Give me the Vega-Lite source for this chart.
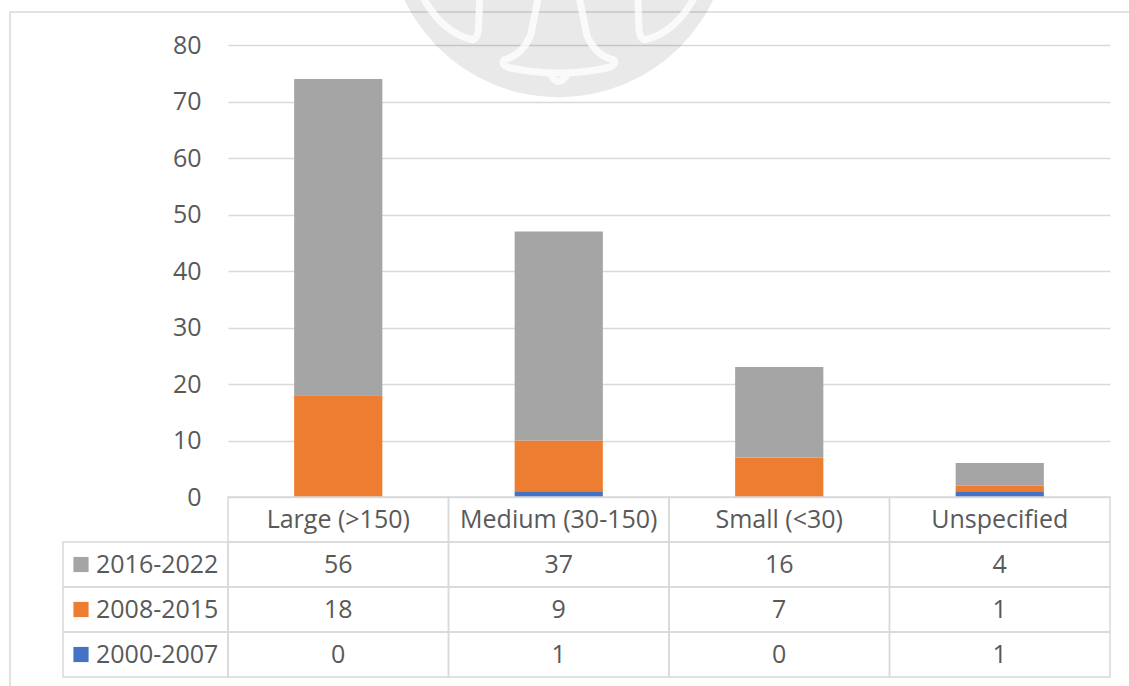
{
  "$schema": "https://vega.github.io/schema/vega-lite/v6.json",
  "width": 882,
  "height": 632,
  "autosize": {"type": "none"},
  "padding": {"left": 228, "top": 45, "right": 19, "bottom": 9},
  "background": "white",
  "config": {"view": {"stroke": null}, "font": "Open Sans"},
  "datasets": {
    "counts": [
      {"category": "Large (>150)", "period": "2000-2007", "value": 0},
      {"category": "Large (>150)", "period": "2008-2015", "value": 18},
      {"category": "Large (>150)", "period": "2016-2022", "value": 56},
      {"category": "Medium (30-150)", "period": "2000-2007", "value": 1},
      {"category": "Medium (30-150)", "period": "2008-2015", "value": 9},
      {"category": "Medium (30-150)", "period": "2016-2022", "value": 37},
      {"category": "Small (<30)", "period": "2000-2007", "value": 0},
      {"category": "Small (<30)", "period": "2008-2015", "value": 7},
      {"category": "Small (<30)", "period": "2016-2022", "value": 16},
      {"category": "Unspecified", "period": "2000-2007", "value": 1},
      {"category": "Unspecified", "period": "2008-2015", "value": 1},
      {"category": "Unspecified", "period": "2016-2022", "value": 4}
    ]
  },
  "data": {"name": "counts"},
  "layer": [
    {
      "data": {"values": [{"frame": "chart"}]},
      "mark": {"type": "rect", "fill": "transparent", "stroke": "#d9d9d9", "strokeWidth": 1.5},
      "encoding": {
        "x": {"field": "frame", "type": "nominal", "axis": null,
              "scale": {"type": "band", "domain": ["chart"], "range": [-218, 940], "paddingInner": 0, "paddingOuter": 0}},
        "y": {"field": "frame", "type": "nominal", "axis": null,
              "scale": {"type": "band", "domain": ["chart"], "range": [-33, 700], "paddingInner": 0, "paddingOuter": 0}}
      }
    },
    {
      "mark": {"type": "bar"},
      "encoding": {
        "x": {"field": "category", "type": "nominal", "axis": null,
              "scale": {"type": "band", "domain": ["Large (>150)", "Medium (30-150)", "Small (<30)", "Unspecified"], "paddingInner": 0.6, "paddingOuter": 0.3}},
        "y": {"field": "value", "type": "quantitative", "stack": "zero",
              "scale": {"domain": [0, 80], "range": [452, 0], "nice": false, "zero": true},
              "axis": {"values": [0, 10, 20, 30, 40, 50, 60, 70, 80], "grid": true, "gridColor": "#d9d9d9", "gridWidth": 1.3,
                       "domain": false, "ticks": false, "labelFontSize": 25, "labelColor": "#595959", "labelPadding": 27,
                       "labelFont": "Open Sans", "title": null}},
        "color": {"field": "period", "type": "nominal", "legend": null,
                  "scale": {"domain": ["2000-2007", "2008-2015", "2016-2022"], "range": ["#4472C4", "#ED7D31", "#A5A5A5"]}},
        "order": {"field": "period", "sort": "ascending"}
      }
    },
    {
      "data": {"values": [{}]},
      "layer": [
        {
          "mark": {"type": "point", "shape": "circle", "filled": true, "size": 117000, "color": "#000000", "opacity": 0.085, "strokeWidth": 0}
        },
        {
          "mark": {"type": "point", "filled": false, "size": 117000, "stroke": "#ffffff", "strokeWidth": 7, "opacity": 0.8, "strokeCap": "round", "strokeJoin": "round",
                   "shape": "M-0.801,0.401 Q-0.690,0.618 -0.503,0.664 Q-0.468,0.652 -0.468,0.577 L-0.462,0.401 M0.801,0.401 Q0.690,0.618 0.503,0.664 Q0.468,0.652 0.468,0.577 L0.462,0.401 M-0.117,0.401 L-0.164,0.635 Q-0.211,0.752 -0.322,0.781 Q-0.339,0.816 -0.281,0.828 Q0,0.887 0.281,0.828 Q0.339,0.816 0.322,0.781 Q0.211,0.752 0.164,0.635 L0.117,0.401 M-0.047,0.869 Q0,0.945 0.047,0.869"}
        }
      ],
      "encoding": {
        "x": {"datum": "Medium (30-150)", "type": "nominal", "axis": null,
              "scale": {"type": "band", "domain": ["Large (>150)", "Medium (30-150)", "Small (<30)", "Unspecified"], "paddingInner": 0.6, "paddingOuter": 0.3}},
        "y": {"datum": 101, "type": "quantitative", "axis": null,
              "scale": {"domain": [0, 80], "range": [452, 0], "nice": false}}
      }
    },
    {
      "transform": [{"filter": "datum.period === '2016-2022'"}],
      "layer": [
        {
          "mark": {"type": "rect", "fill": "transparent", "stroke": "#d9d9d9", "strokeWidth": 1.5},
          "encoding": {
            "x": {"field": "category", "type": "nominal", "axis": null,
                  "scale": {"type": "band", "domain": ["Large (>150)", "Medium (30-150)", "Small (<30)", "Unspecified"], "paddingInner": 0, "paddingOuter": 0}},
            "y": {"datum": "header", "type": "nominal", "axis": null,
                  "scale": {"type": "band", "domain": ["header", "2016-2022", "2008-2015", "2000-2007"], "range": [452, 632], "paddingInner": 0, "paddingOuter": 0}}
          }
        },
        {
          "mark": {"type": "text", "fontSize": 25, "color": "#595959", "baseline": "middle", "align": "center"},
          "encoding": {
            "x": {"field": "category", "type": "nominal", "axis": null},
            "y": {"datum": "header", "type": "nominal", "axis": null},
            "text": {"field": "category"}
          }
        }
      ]
    },
    {
      "layer": [
        {
          "mark": {"type": "rect", "fill": "transparent", "stroke": "#d9d9d9", "strokeWidth": 1.5},
          "encoding": {
            "x": {"field": "category", "type": "nominal", "axis": null,
                  "scale": {"type": "band", "domain": ["Large (>150)", "Medium (30-150)", "Small (<30)", "Unspecified"], "paddingInner": 0, "paddingOuter": 0}},
            "y": {"field": "period", "type": "nominal", "axis": null,
                  "scale": {"type": "band", "domain": ["header", "2016-2022", "2008-2015", "2000-2007"], "range": [452, 632], "paddingInner": 0, "paddingOuter": 0}}
          }
        },
        {
          "mark": {"type": "text", "fontSize": 25, "color": "#595959", "baseline": "middle", "align": "center"},
          "encoding": {
            "x": {"field": "category", "type": "nominal", "axis": null},
            "y": {"field": "period", "type": "nominal", "axis": null},
            "text": {"field": "value", "type": "quantitative"}
          }
        }
      ]
    },
    {
      "transform": [{"filter": "datum.category === 'Large (>150)'"}],
      "layer": [
        {
          "mark": {"type": "rect", "fill": "transparent", "stroke": "#d9d9d9", "strokeWidth": 1.5},
          "encoding": {
            "x": {"datum": "label", "type": "nominal", "axis": null,
                  "scale": {"type": "band", "domain": ["label"], "range": [-165, 0], "paddingInner": 0, "paddingOuter": 0}},
            "y": {"field": "period", "type": "nominal", "axis": null,
                  "scale": {"type": "band", "domain": ["header", "2016-2022", "2008-2015", "2000-2007"], "range": [452, 632], "paddingInner": 0, "paddingOuter": 0}}
          }
        },
        {
          "mark": {"type": "point", "shape": "square", "filled": true, "size": 230, "opacity": 1, "strokeWidth": 0, "xOffset": -64.5},
          "encoding": {
            "x": {"datum": "label", "type": "nominal", "axis": null},
            "y": {"field": "period", "type": "nominal", "axis": null},
            "color": {"field": "period", "type": "nominal", "legend": null,
                      "scale": {"domain": ["2000-2007", "2008-2015", "2016-2022"], "range": ["#4472C4", "#ED7D31", "#A5A5A5"]}}
          }
        },
        {
          "mark": {"type": "text", "fontSize": 25, "color": "#595959", "baseline": "middle", "align": "left", "xOffset": -49.5},
          "encoding": {
            "x": {"datum": "label", "type": "nominal", "axis": null},
            "y": {"field": "period", "type": "nominal", "axis": null},
            "text": {"field": "period"}
          }
        }
      ]
    }
  ],
  "resolve": {
    "scale": {"x": "independent", "y": "independent", "color": "independent"},
    "axis": {"x": "independent", "y": "independent"}
  }
}
